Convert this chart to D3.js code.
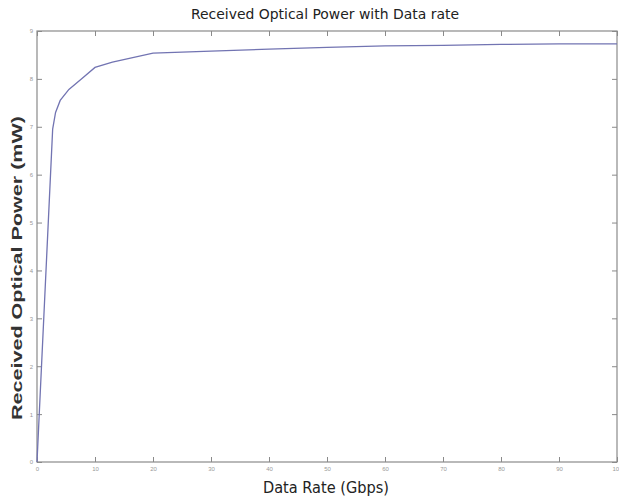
<!DOCTYPE html>
<html><head><meta charset="utf-8">
<script src="https://cdn.jsdelivr.net/npm/d3@7"></script>
<style>body{margin:0;background:#fff}svg{display:block}</style>
</head><body><svg id="c" width="619" height="502"></svg>
<script>
const dataRate = [0, 2.7, 3.2, 4.0, 5.5, 7.5, 10, 13, 20, 30, 40, 50, 60, 70, 80, 90, 100];
const power    = [0, 6.95, 7.3, 7.55, 7.78, 7.98, 8.24, 8.35, 8.54, 8.58, 8.62, 8.66, 8.69, 8.70, 8.72, 8.73, 8.73];
const xTicks = [0,10,20,30,40,50,60,70,80,90,100];
const yTicks = [0,1,2,3,4,5,6,7,8,9];
const title = "Received Optical Power with Data rate";
const xLabel = "Data Rate (Gbps)";
const yLabel = "Received Optical Power (mW)";

const svg = d3.select("#c");
const L=37, R=617, T=31, B=462;
const x = d3.scaleLinear().domain([0,100]).range([L,R]);
const y = d3.scaleLinear().domain([0,9]).range([B,T]);
const axCol = "#8a8a8a";

svg.append("rect").attr("x",L).attr("y",T).attr("width",R-L).attr("height",B-T)
  .attr("fill","none").attr("stroke",axCol).attr("stroke-width",1.2);

const tl = 5;
svg.append("g").attr("transform",`translate(0,${B})`)
  .call(d3.axisBottom(x).tickValues(xTicks).tickSize(-tl).tickPadding(5).tickFormat(d3.format("d")));
svg.append("g").attr("transform",`translate(0,${T})`)
  .call(d3.axisTop(x).tickValues(xTicks).tickSize(-tl).tickFormat(""));
svg.append("g").attr("transform",`translate(${L},0)`)
  .call(d3.axisLeft(y).tickValues(yTicks).tickSize(-tl).tickPadding(4).tickFormat(d3.format("d")));
svg.append("g").attr("transform",`translate(${R},0)`)
  .call(d3.axisRight(y).tickValues(yTicks).tickSize(-tl).tickFormat(""));
svg.selectAll(".domain").remove();
svg.selectAll(".tick line").attr("stroke",axCol);
svg.selectAll(".tick text").attr("fill","#999").style("font-family","Liberation Sans, Arial").style("font-size","6px");

const pts = dataRate.map((d,i)=>[d,power[i]]);
svg.append("path").datum(pts)
  .attr("fill","none").attr("stroke","#7274b2").attr("stroke-width",1.3)
  .attr("d", d3.line().x(d=>x(d[0])).y(d=>y(d[1])));

svg.append("text").attr("x",325).attr("y",19).attr("text-anchor","middle")
  .style("font-family","'DejaVu Sans Condensed','Open Sans',sans-serif").style("font-size","14px")
  .attr("fill","#222").attr("textLength",268).attr("lengthAdjust","spacingAndGlyphs").text(title);
svg.append("text").attr("x",326).attr("y",493).attr("text-anchor","middle")
  .style("font-family","'DejaVu Sans Condensed','Open Sans',sans-serif").style("font-size","15px")
  .attr("fill","#222").attr("textLength",126).attr("lengthAdjust","spacingAndGlyphs").text(xLabel);
svg.append("text").attr("transform","translate(22,268) rotate(-90)").attr("text-anchor","middle")
  .style("font-family","'Liberation Sans',Arial,sans-serif").style("font-size","15px").style("font-weight","bold")
  .attr("fill","#333").attr("textLength",304).attr("lengthAdjust","spacingAndGlyphs").text(yLabel);
</script></body></html>
